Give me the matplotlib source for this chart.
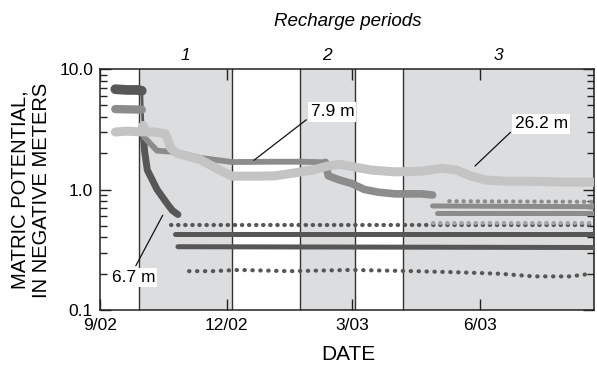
import matplotlib
matplotlib.use('Agg')
import matplotlib.pyplot as plt
import numpy as np

plt.rcParams['font.family'] = ['Liberation Sans', 'DejaVu Sans']

def d(*s):
    return np.array(s, dtype='datetime64[D]')

# recharge periods (start, end)
periods = [('2002-09-29', '2002-12-05'), ('2003-01-23', '2003-03-03'), ('2003-04-07', '2003-08-22')]
period_names = ['1', '2', '3']

# 6.7 m sensor (dark)
dark_top_dates = d('2002-09-12', '2002-09-20', '2002-09-28', '2002-10-01')
dark_top_vals = [6.8, 6.7, 6.7, 6.6]
dark_dates = d('2002-10-02', '2002-10-03', '2002-10-05', '2002-10-12', '2002-10-19',
               '2002-10-23', '2002-10-27')
dark_vals = [3.0, 2.1, 1.45, 1.0, 0.77, 0.67, 0.62]
dark_rows = {  # (start, end), (start value, end value), dense?
    'a': (('2002-10-22', '2003-08-22'), (0.51, 0.51), False),
    'b': (('2002-10-25', '2003-08-22'), (0.43, 0.43), True),
    'c': (('2002-10-27', '2003-08-22'), (0.335, 0.33), True),
}
dark_low_dates = d('2002-11-04', '2002-11-20', '2002-12-10', '2003-01-15', '2003-03-01',
                   '2003-04-15', '2003-05-20', '2003-06-15', '2003-07-10', '2003-08-05', '2003-08-20')
dark_low_vals = [0.21, 0.21, 0.215, 0.21, 0.215, 0.21, 0.205, 0.2, 0.19, 0.19, 0.2]

# 7.9 m sensor (medium gray)
mid_top_dates = d('2002-09-12', '2002-10-01')
mid_top_vals = [4.65, 4.6]
mid_dates = d('2002-10-02', '2002-10-03', '2002-10-12', '2002-10-25', '2002-11-12', '2002-12-05',
              '2003-01-01', '2003-01-25', '2003-02-10', '2003-02-12', '2003-02-20', '2003-03-01',
              '2003-03-10', '2003-03-20', '2003-04-01', '2003-04-20', '2003-04-28')
mid_vals = [3.2, 2.7, 2.1, 2.05, 1.83, 1.69, 1.7, 1.7, 1.68, 1.3, 1.2, 1.12,
            1.0, 0.95, 0.92, 0.92, 0.9]
mid_rows = {
    'a': (('2003-04-28', '2003-08-22'), (0.73, 0.72), True),
    'b': (('2003-05-01', '2003-08-22'), (0.64, 0.64), True),
    'c': (('2003-05-10', '2003-08-22'), (0.80, 0.79), False),
    'd': (('2003-04-28', '2003-08-22'), (0.53, 0.53), False),
}

# 26.2 m sensor (light gray)
light_dates = d('2002-09-12', '2002-09-20', '2002-10-01', '2002-10-02', '2002-10-04', '2002-10-10',
                '2002-10-18', '2002-10-22', '2002-10-26', '2002-11-12', '2002-11-26', '2002-12-05',
                '2002-12-24', '2003-01-05', '2003-01-20', '2003-02-01', '2003-02-10', '2003-02-20',
                '2003-03-01', '2003-03-15', '2003-04-01', '2003-04-20', '2003-05-05', '2003-05-15',
                '2003-05-25', '2003-06-05', '2003-06-20', '2003-07-10', '2003-08-01', '2003-08-22')
light_vals = [3.0, 3.05, 3.0, 3.4, 3.0, 3.0, 2.9, 2.2, 2.0, 1.77, 1.45, 1.29,
              1.29, 1.3, 1.38, 1.45, 1.55, 1.62, 1.55, 1.45, 1.40, 1.42, 1.5, 1.45,
              1.3, 1.2, 1.17, 1.17, 1.15, 1.15]

xtick_dates = d('2002-09-01', '2002-12-01', '2003-03-01', '2003-06-01')
xtick_labels = ['9/02', '12/02', '3/03', '6/03']
ytick_vals = [0.1, 1.0, 10.0]
ytick_labels = ['0.1', '1.0', '10.0']

DARK, MID, MIDL, LIGHT, SHADE = '#575757', '#8c8c8c', '#a4a4a4', '#c4c4c4', '#dcdddf'

fig = plt.figure(figsize=(5.97, 3.65), dpi=100)
ax = fig.add_axes([100 / 597, 1 - 310 / 365, 494 / 597, 241 / 365])

for (s, e) in periods:
    ax.axvspan(np.datetime64(s), np.datetime64(e), color=SHADE, lw=0, zorder=0)
    ax.axvline(np.datetime64(s), color='#333333', lw=1.0, zorder=1)
    ax.axvline(np.datetime64(e), color='#333333', lw=1.0, zorder=1)

def row(rows, color, z):
    for (s, e), (v0, v1), dense in rows.values():
        if dense:
            ax.plot(d(s, e), [v0, v1], color=color, lw=3.6, solid_capstyle='round', zorder=z)
        else:
            ax.plot(d(s, e), [v0, v1], color=color, lw=3.0, dash_capstyle='round',
                    dashes=(0.1, 1.6), zorder=z)

# dark
ax.plot(dark_top_dates, dark_top_vals, color=DARK, lw=7, solid_capstyle='round', zorder=3)
ax.plot([dark_top_dates[-1], dark_dates[0]], [dark_top_vals[-1], dark_vals[0]],
        color=DARK, lw=2, zorder=3)
ax.plot(dark_dates, dark_vals, color=DARK, lw=5, solid_capstyle='round', zorder=3)
row(dark_rows, DARK, 3)
ax.plot(dark_low_dates, dark_low_vals, color=DARK, lw=3.0, dash_capstyle='round',
        dashes=(0.1, 1.8), zorder=3)

# medium
ax.plot(mid_top_dates, mid_top_vals, color=MID, lw=6, solid_capstyle='round', zorder=4)
ax.plot(mid_dates[:9], mid_vals[:9], color=MID, lw=4.2, solid_capstyle='round', zorder=4)
ax.plot(mid_dates[8:], mid_vals[8:], color=MID, lw=5.5, solid_capstyle='round', zorder=4)
row({k: v for k, v in mid_rows.items() if k != 'd'}, MID, 4)
row({'d': mid_rows['d']}, MIDL, 4)

# light
ax.plot(light_dates, light_vals, color=LIGHT, lw=6.5, solid_capstyle='round', zorder=5)

ax.set_yscale('log')
ax.set_ylim(0.1, 10)
ax.set_xlim(np.datetime64('2002-09-01'), np.datetime64('2003-08-22'))
ax.set_yticks(ytick_vals)
ax.set_yticklabels(ytick_labels)
ax.set_xticks(xtick_dates)
ax.set_xticklabels(xtick_labels)
ax.tick_params(which='both', direction='in', top=True, right=True, labelsize=12.5,
               width=1, colors='#222222', labelcolor='black')
ax.tick_params(which='major', length=8)
ax.tick_params(which='minor', length=5)
ax.tick_params(axis='x', pad=6)
ax.tick_params(axis='y', pad=5)
for sp in ax.spines.values():
    sp.set_linewidth(1.1)
    sp.set_color('#222222')

# period labels
for (s, e), name in zip(periods, period_names):
    mid = np.datetime64(s) + (np.datetime64(e) - np.datetime64(s)) / 2
    ax.text(mid, 10 ** 1.11, name, ha='center', va='center', style='italic', fontsize=12.5)
fig.text(348 / 597, 1 - 22 / 365, 'Recharge periods', ha='center', va='center',
         style='italic', fontsize=13.5)

fig.text(31 / 597, 1 - 190 / 365, 'MATRIC POTENTIAL,\nIN NEGATIVE METERS', rotation=90,
         ha='center', va='center', fontsize=14.5, linespacing=1.2)
fig.text(348 / 597, 1 - 355 / 365, 'DATE', ha='center', va='center', fontsize=15)

box = dict(facecolor='white', edgecolor='none', pad=1.5)
ax.annotate('7.9 m', xy=(np.datetime64('2002-12-19'), 1.69), xytext=(np.datetime64('2003-02-15'), 4.4),
            ha='center', va='center', fontsize=12.5, bbox=box, zorder=6,
            arrowprops=dict(arrowstyle='-', color='#111111', lw=0.9, relpos=(0, 0.2)))
ax.annotate('26.2 m', xy=(np.datetime64('2003-05-27'), 1.51), xytext=(np.datetime64('2003-07-15'), 3.5),
            ha='center', va='center', fontsize=12.5, bbox=box, zorder=6,
            arrowprops=dict(arrowstyle='-', color='#111111', lw=0.9, relpos=(0, 0.2)))
ax.annotate('6.7 m', xy=(np.datetime64('2002-10-17'), 0.64), xytext=(np.datetime64('2002-09-25'), 0.185),
            ha='center', va='center', fontsize=12.5, bbox=box, zorder=6,
            arrowprops=dict(arrowstyle='-', color='#111111', lw=0.9, relpos=(0.5, 1)))

fig.savefig('out.png', dpi=100)
